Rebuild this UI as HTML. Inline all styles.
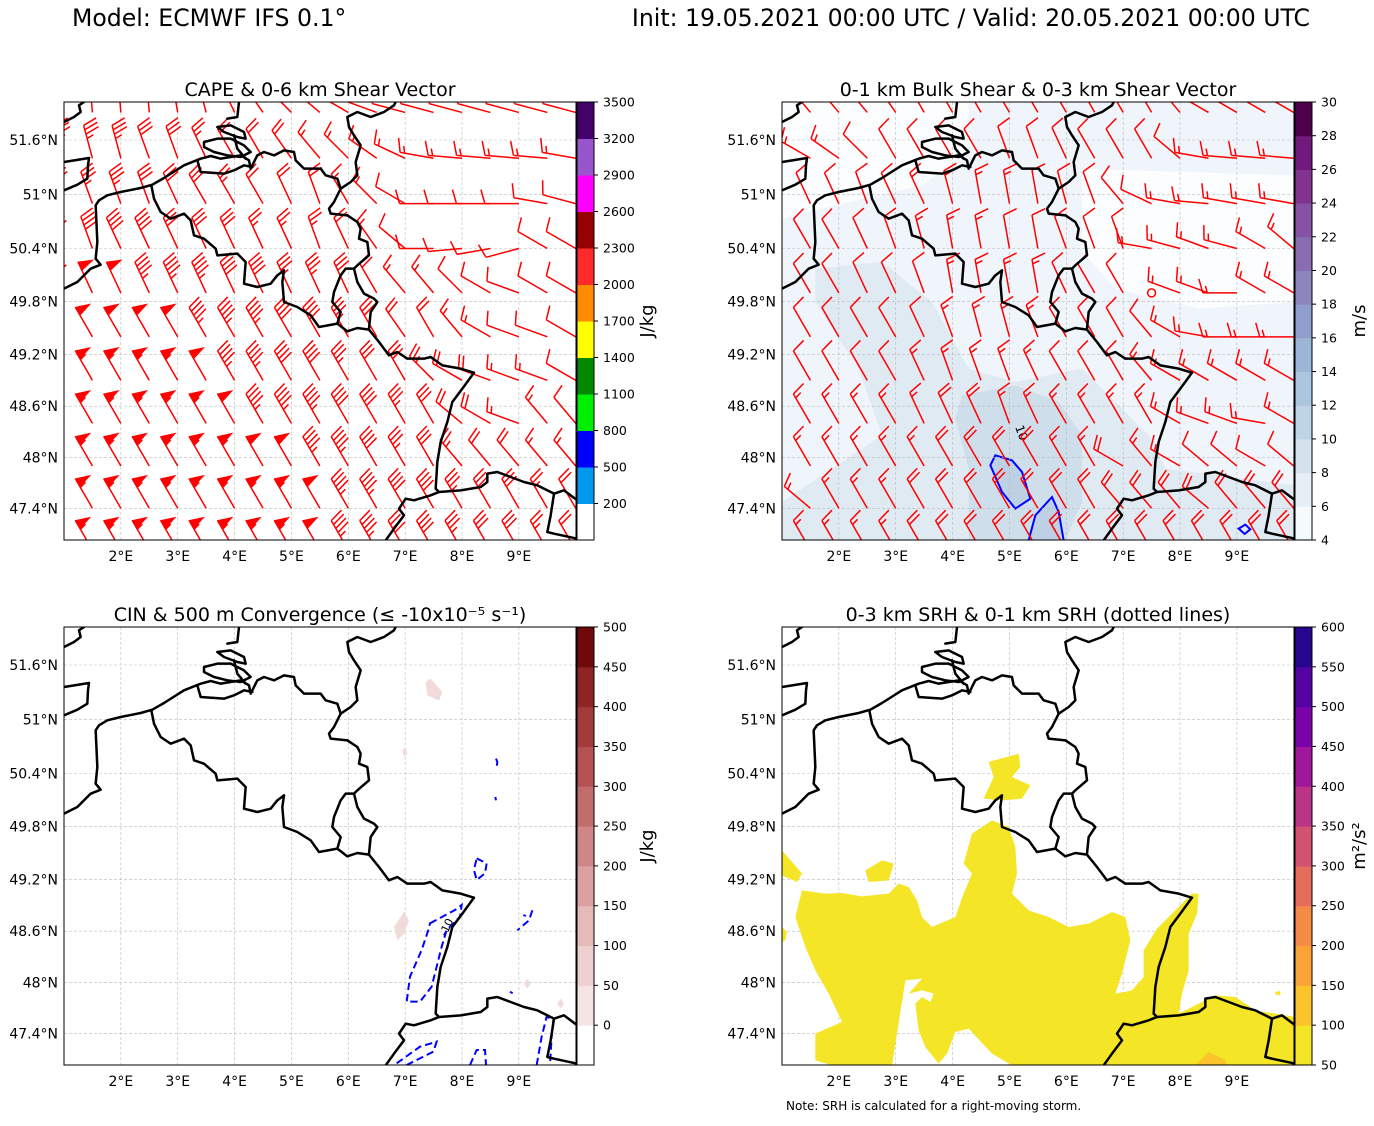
<!DOCTYPE html>
<html><head><meta charset="utf-8"><style>
html,body{margin:0;padding:0;background:#fff;}
svg text{font-family:"DejaVu Sans","Liberation Sans",sans-serif;fill:#000;}
</style></head><body>
<svg id="fig" width="1374" height="1121" viewBox="0 0 1374 1121" xmlns="http://www.w3.org/2000/svg">
<defs>
<symbol id="borders" viewBox="0 0 1542 1314" width="514" height="438">
<g fill="none" stroke="#000" stroke-width="7.5" stroke-linejoin="round" stroke-linecap="round">
<path d="M0,560 L40,540 L80,500 L110,488 L95,470 L100,420 L95,310 L105,295 L130,280 L170,270 L230,258 L265,248 L300,228 L360,190 L410,170 L440,162 L470,170 L500,165 L530,160 L555,175 L560,200"/>
<path d="M400,175 L410,210 L480,215 L510,205 L540,190 L565,195"/>
<path d="M420,120 L460,110 L500,110 L540,130 L560,150 L530,165 L490,160 L450,150 L420,135 Z"/>
<path d="M460,75 L500,70 L540,90 L545,110 L520,105 L480,90 Z"/>
<path d="M490,50 L520,45 L525,0 M510,100 L520,140 L545,170"/>
<path d="M0,180 L75,168 L72,190 L70,230 L40,248 L0,265 M0,60 L30,45 L50,30 L45,10 L60,0"/>
<path d="M262,250 L270,290 L290,330 L320,350 L360,335 L380,355 L390,400 L420,410 L455,440 L460,460 L520,455 L545,480 L540,545 L580,555 L620,545 L640,520 L660,505 L655,540 L660,600 L700,615 L740,640 L765,675 L820,665 L850,688 L880,678 L915,683 L945,720 L975,760 L1000,750 L1030,770 L1080,770 L1100,765 L1135,790 L1190,800 L1230,812 L1195,860 L1165,900 L1150,960 L1130,1020 L1120,1080 L1115,1160 L1125,1170 L1100,1180 L1050,1195 L1025,1190 L1005,1220 L1020,1240 L990,1280 L965,1315"/>
<path d="M1125,1170 L1190,1165 L1250,1155 L1270,1140 L1270,1115 L1300,1110 L1340,1125 L1380,1140 L1420,1150 L1470,1175 L1500,1165 L1540,1195 M1470,1175 L1460,1240 L1450,1290 L1470,1295 L1540,1310"/>
<path d="M565,190 L580,160 L600,150 L630,160 L660,145 L690,150 L695,175 L720,200 L770,200 L785,220 L820,230 L830,260 L810,300 L795,320 L800,335 L850,340"/>
<path d="M830,260 L860,240 L880,220 L875,180 L890,130 L870,100 L855,75 L850,45 L880,30 L920,45 L960,30 L990,10 L995,0"/>
<path d="M850,340 L880,360 L890,380 L885,410 L910,420 L915,460 L880,490 L870,500 M870,500 L845,500 L830,520 L810,570 L805,600 L830,630 L820,665 M870,500 L880,540 L900,575 L930,590 L940,600 L920,630 L915,680"/>
</g>
</symbol>
<clipPath id="clipMap"><rect x="0" y="0" width="512" height="438"/></clipPath>
</defs>

<text x="72" y="26" font-size="23.6">Model: ECMWF IFS 0.1°</text>
<text x="1310" y="26" font-size="23.6" text-anchor="end">Init: 19.05.2021 00:00 UTC / Valid: 20.05.2021 00:00 UTC</text>

<g id="p1" transform="translate(64,102)"></g>
<g id="p2" transform="translate(782,102)"></g>
<g id="p3" transform="translate(64,627)"></g>
<g id="p4" transform="translate(782,627)"></g>
<text x="786" y="1110" font-size="12">Note: SRH is calculated for a right-moving storm.</text>
</svg>
<script>
// ---- data ----
const lonTicks = [2,3,4,5,6,7,8,9];
const latTicks = [47.4,48.0,48.6,49.2,49.8,50.4,51.0,51.6];
const latTickLabels = ["47.4°N","48°N","48.6°N","49.2°N","49.8°N","50.4°N","51°N","51.6°N"];
const barbLons = [1.0,1.5,2.0,2.5,3.0,3.5,4.0,4.5,5.0,5.5,6.0,6.5,7.0,7.5,8.0,8.5,9.0,9.5,10.0];
const barbLats = [51.9,51.4,50.9,50.4,49.9,49.4,48.9,48.4,47.9,47.4,46.9];
// CAPE panel: 0-6 km shear (kt) and direction (deg)
const shear6Speed = [
[25,25,20,20,20,20,15,15,15,15,10,10,10,10,10,10,10,10,10],
[35,35,35,30,30,25,20,20,20,15,15,15,15,15,15,15,15,15,15],
[35,35,35,30,30,30,25,20,20,20,15,15,10,10,10,10,10,10,10],
[40,40,40,40,30,30,30,25,25,25,20,15,10,10,10,10,10,10,10],
[45,50,50,45,45,45,40,40,35,35,30,20,15,15,10,10,10,10,10],
[45,50,50,50,50,45,45,45,40,40,35,30,20,20,15,15,10,10,10],
[50,55,55,55,55,50,45,45,40,40,35,30,30,25,20,20,15,15,10],
[55,55,55,55,55,55,50,45,45,45,40,40,35,30,20,20,15,15,10],
[55,55,55,55,55,55,55,50,50,45,45,40,35,30,25,20,20,15,15],
[55,55,55,55,55,55,55,55,55,50,45,45,40,40,35,30,30,25,20],
[55,55,55,55,55,55,55,55,55,50,45,45,40,40,35,30,30,25,20]];
const shear6Dir = [
[350,355,355,355,350,345,335,325,315,310,300,290,285,285,285,285,285,285,285],
[345,345,345,340,340,335,330,330,325,320,315,305,295,280,275,275,275,275,280],
[340,340,340,340,335,330,330,330,335,340,330,315,300,270,270,270,270,280,285],
[335,340,335,335,335,335,335,335,335,340,335,325,310,270,265,260,255,300,300],
[335,335,335,335,335,335,335,335,335,335,335,330,320,320,315,300,290,300,300],
[330,330,330,330,330,330,330,330,330,330,330,330,325,330,320,300,290,290,300],
[330,330,330,330,330,330,330,330,330,330,330,330,330,315,300,290,290,290,300],
[330,330,330,330,330,330,330,330,330,330,330,330,330,330,310,300,290,320,320],
[330,330,330,330,330,330,330,330,330,330,330,330,330,330,320,320,320,320,320],
[330,330,330,330,330,330,330,330,330,330,330,330,330,330,330,330,330,330,330],
[330,330,330,330,330,330,330,330,330,330,330,330,330,330,330,330,330,330,330]];
// bulk shear panel: 0-3 km shear
const shear3Speed = [
[10,10,10,10,10,10,10,10,10,10,10,10,10,10,10,10,10,10,10],
[10,15,15,10,10,10,10,10,10,10,10,10,10,10,10,15,15,15,15],
[10,10,10,10,10,15,15,15,15,10,10,10,10,10,15,15,15,15,15],
[10,10,10,10,10,15,15,15,10,10,10,10,10,15,15,15,15,15,15],
[10,10,10,10,10,10,15,15,15,15,10,10,10,0,15,15,15,15,15],
[10,10,10,10,10,10,15,15,15,15,10,10,10,10,15,15,15,15,15],
[10,10,10,10,10,15,15,15,15,15,10,10,10,15,15,15,15,15,15],
[15,15,15,15,15,15,20,20,15,15,15,15,15,15,15,15,15,15,15],
[10,15,15,15,15,15,20,20,20,20,15,15,20,15,15,10,10,10,10],
[10,15,15,15,15,20,20,20,20,20,20,20,20,20,20,20,20,20,20],
[15,15,15,15,15,20,20,20,20,20,20,20,20,20,20,20,20,20,20]];
const shear3Dir = [
[320,320,320,320,325,330,330,330,330,330,330,330,330,330,320,300,300,300,300],
[310,300,305,315,330,330,330,330,340,340,335,330,330,330,310,280,275,275,275],
[330,335,335,340,335,335,345,350,350,350,345,340,320,295,280,275,280,280,280],
[330,330,330,335,340,345,350,350,350,350,340,340,340,280,285,290,285,300,310],
[320,330,330,335,335,340,350,350,350,350,335,330,330,0,290,290,270,300,300],
[330,330,330,330,330,335,340,345,345,340,330,330,330,320,300,280,270,270,270],
[330,330,330,330,330,335,340,340,340,335,330,330,330,320,300,300,300,300,300],
[330,330,330,330,330,335,335,335,340,335,330,330,330,330,300,290,290,280,300],
[320,330,330,330,330,330,330,330,330,330,330,330,300,320,300,310,310,300,310],
[310,310,330,330,330,330,330,330,330,330,330,330,320,320,320,310,320,320,320],
[330,330,330,330,330,330,330,330,330,330,330,330,330,330,330,330,330,330,330]];
const capeLevels = [200,500,800,1100,1400,1700,2000,2300,2600,2900,3200,3500];
const capeColors = ["#0099ee","#0000ff","#00ee00","#008800","#ffff00","#ff8c00","#ff2a2a","#960000","#ff00ff","#9955cc","#44006b"];
const shearLevels = [4,6,8,10,12,14,16,18,20,22,24,26,28,30];
const shearColors = ["#f5fafc","#e6eff6","#d4e2ee","#c0d4e7","#adc6e0","#9db6d7","#8f9ecc","#8c86bf","#8a6cb1","#8752a4","#82338f","#6f1a7c","#4d004b"];
const cinLevels = [0,50,100,150,200,250,300,350,400,450,500];
const cinColors = ["#f6e4e4","#efd0d0","#e7baba","#dca0a0","#d08686","#c36c6c","#b45252","#a33a3a","#8f2424","#700a0a"];
const srhLevels = [50,100,150,200,250,300,350,400,450,500,550,600];
const srhColors = ["#f4e526","#fbc42b","#fca337","#f58b47","#e66c5c","#d35171","#bb3488","#a0179c","#7a02a8","#5502a4","#26068f"];

// ---- axes ----
const NS="http://www.w3.org/2000/svg";
const W=512,H=438;
function merc(lat){return Math.log(Math.tan(Math.PI/4+lat*Math.PI/360));}
function xOf(lon){return (lon-1.0)*56.86;}
function yOf(lat){return 38+3260*(merc(51.6)-merc(lat));}
function el(tag,attrs,parent){const e=document.createElementNS(NS,tag);for(const k in attrs)e.setAttribute(k,attrs[k]);if(parent)parent.appendChild(e);return e;}

function drawFrameAxes(g){
  for(let i=0;i<lonTicks.length;i++){
    const x=xOf(lonTicks[i]);
    const gl=el('line',{x1:x,y1:0,x2:x,y2:H,stroke:'#bbb','stroke-width':0.6,'stroke-dasharray':'3,2'},g);
    
    
    const t=el('text',{x:x,y:H+21,'font-size':14,'text-anchor':'middle'},g);
    t.textContent=lonTicks[i]+'°E';
    
    
  }
  for(let i=0;i<latTicks.length;i++){
    const y=yOf(latTicks[i]);
    const gl=el('line',{x1:0,y1:y,x2:W,y2:y,stroke:'#bbb','stroke-width':0.6,'stroke-dasharray':'3,2'},g);
    
    
    const t=el('text',{x:-6,y:y+5,'font-size':14,'text-anchor':'end'},g);
    t.textContent=latTickLabels[i];
    
    
  }
}
function drawBorders(g){
  const u=el('use',{href:'#borders',x:0,y:0,width:514,height:438},g);
  
  
  const r=el('rect',{x:0,y:0,width:W,height:H,fill:'none',stroke:'#000','stroke-width':1},g);
  
  
}
function drawTitle(g,txt,name){
  const t=el('text',{x:W/2,y:-6,'font-size':19,'text-anchor':'middle'},g);
  t.textContent=txt;
  
  
}
function drawColorbar(g,levels,colors,unit,extendBelow,name){
  const cb=el('g',{transform:'translate(513,0)'},g);
  
  
  const n=colors.length+(extendBelow?1:0);
  const seg=H/n;
  function yl(i){return H-(i+(extendBelow?1:0))*seg;}
  if(extendBelow){el('rect',{x:0,y:H-seg,width:17,height:seg,fill:'#fff'},cb);}
  for(let i=0;i<colors.length;i++){
    const r=el('rect',{x:0,y:yl(i+1),width:17,height:seg+0.5,fill:colors[i]},cb);
    
    
  }
  el('rect',{x:0,y:0,width:17,height:H,fill:'none',stroke:'#000','stroke-width':1},cb);
  for(let i=0;i<levels.length;i++){
    const y=yl(i);
    el('line',{x1:17,y1:y,x2:21,y2:y,stroke:'#000','stroke-width':1},cb);
    const t=el('text',{x:26,y:y+4.5,'font-size':12.5},cb);
    t.textContent=levels[i];
    
    
  }
  const lx=name==='cape-colorbar'||name==='cin-colorbar'?76:70;
  const t=el('text',{x:lx,y:H/2,'font-size':18,'text-anchor':'middle',transform:`rotate(-90 ${lx} ${H/2})`},cb);
  t.textContent=unit;
  
  
}
function drawBarb(g,x,y,spd,dir){
  const L=34;
  if(spd<5){
    const c=el('circle',{cx:x,cy:y,r:4,fill:'none',stroke:'#f00','stroke-width':1.5},g);
    
    
    return;
  }
  const a=dir*Math.PI/180;
  const ux=Math.sin(a),uy=-Math.cos(a);
  const px=-uy,py=ux;
  const tx=x+ux*L,ty=y+uy*L;
  const bl=14,sp=4.5;
  let d=`M${x},${y}L${tx},${ty}`;
  let s=Math.round(spd/5)*5;
  let pen=Math.floor(s/50);s-=pen*50;
  let full=Math.floor(s/10);s-=full*10;
  let half=s>=5;
  let pos=0;
  let fills='';
  for(let i=0;i<pen;i++){
    const ax=tx-ux*pos,ay=ty-uy*pos;
    const bx=tx-ux*(pos+sp*2),by=ty-uy*(pos+sp*2);
    const cx=ax-ux*sp+px*bl,cy=ay-uy*sp+py*bl;
    fills+=`M${ax},${ay}L${cx},${cy}L${bx},${by}Z`;
    pos+=sp*2+1;
  }
  if(pen===0&&full===0&&half)pos+=sp;
  for(let i=0;i<full;i++){
    const ax=tx-ux*pos,ay=ty-uy*pos;
    d+=`M${ax},${ay}L${ax+px*bl+ux*4},${ay+py*bl+uy*4}`;
    pos+=sp;
  }
  if(half){
    const ax=tx-ux*pos,ay=ty-uy*pos;
    d+=`M${ax},${ay}L${ax+px*bl/2+ux*2},${ay+py*bl/2+uy*2}`;
  }
  const p=el('path',{d:d,fill:'none',stroke:'#f00','stroke-width':1.5},g);
  
  
  if(fills){
    const f=el('path',{d:fills,fill:'#f00',stroke:'#f00','stroke-width':1},g);
    
    
  }
}
function drawBarbs(g,spd,dir){
  const bg=el('g',{'clip-path':'url(#clipMap)'},g);
  
  
  for(let r=0;r<barbLats.length;r++)for(let c=0;c<barbLons.length;c++){
    drawBarb(bg,xOf(barbLons[c]),yOf(barbLats[r]),spd[r][c],dir[r][c]);
  }
}
function zpoly(g,pts,fill,name,extra){
  const p=el('path',Object.assign({d:pts,fill:fill,transform:'scale(0.33333)'},extra||{}),g);
  
  
  return p;
}

// ---- panel 1 ----
const p1=document.getElementById('p1');
drawTitle(p1,'CAPE & 0-6 km Shear Vector','cape-panel-title');
el('rect',{x:0,y:0,width:W,height:H,fill:'#fff'},p1);
drawFrameAxes(p1);
drawBarbs(p1,shear6Speed,shear6Dir);
drawBorders(p1);
drawColorbar(p1,capeLevels,capeColors,'J/kg',true,'cape-colorbar');

// ---- panel 2 ----
const p2=document.getElementById('p2');
drawTitle(p2,'0-1 km Bulk Shear & 0-3 km Shear Vector','bulk-shear-panel-title');
const f2=el('g',{'clip-path':'url(#clipMap)'},p2);


el('rect',{x:0,y:0,width:W,height:H,fill:'#eff5fa'},f2);
zpoly(f2,'M0,0 L560,0 L560,150 L420,250 L200,300 L0,350Z','#fbfdfe','shear-low-region');
zpoly(f2,'M900,200 L1540,220 L1540,600 L1250,620 L1000,560 L900,450Z','#fbfdfe','shear-low-region-east');
zpoly(f2,'M100,500 L300,480 L450,600 L560,800 L700,840 L900,800 L1000,900 L1100,1000 L1150,1100 L1540,1150 L1540,1315 L0,1315 L0,1200 L300,1000 L230,800 L100,600Z','#e0eaf3','shear-8-10-region');
zpoly(f2,'M540,880 L700,850 L830,900 L900,1000 L900,1200 L850,1315 L560,1315 L560,1100 L520,950Z','#cfdeeb','shear-10-12-region');
zpoly(f2,'M640,1060 L690,1075 L720,1110 L745,1190 L700,1220 L660,1170 L625,1090Z','#bdd0e4','shear-12-region');
zpoly(f2,'M740,1315 L760,1240 L810,1185 L830,1230 L845,1315Z','#bdd0e4','shear-12-region-south');
zpoly(f2,'M640,1060 L690,1075 L720,1110 L745,1190 L700,1220 L660,1170 L625,1090Z','none','shear-10-contour',{stroke:'#00f','stroke-width':6});
zpoly(f2,'M740,1315 L760,1240 L810,1185 L830,1230 L845,1315','none','shear-10-contour-south',{stroke:'#00f','stroke-width':6});
zpoly(f2,'M1370,1280 L1390,1268 L1405,1282 L1388,1296Z','none','shear-10-contour-east',{stroke:'#00f','stroke-width':6});
const l10=el('text',{x:233,y:325,'font-size':12,fill:'#00f',transform:'rotate(70 233 325)'},f2);
l10.textContent='10';


drawFrameAxes(p2);
drawBarbs(p2,shear3Speed,shear3Dir);
drawBorders(p2);
drawColorbar(p2,shearLevels,shearColors,'m/s',false,'shear-colorbar');

// ---- panel 3 ----
const p3=document.getElementById('p3');
drawTitle(p3,'CIN & 500 m Convergence (≤ -10x10⁻⁵ s⁻¹)','cin-panel-title');
el('rect',{x:0,y:0,width:W,height:H,fill:'#fff'},p3);
drawFrameAxes(p3);
const f3=el('g',{'clip-path':'url(#clipMap)'},p3);


zpoly(f3,'M1085,165 L1100,155 L1135,195 L1125,220 L1090,205Z','#f0dada','cin-patch');
zpoly(f3,'M1015,370 L1025,360 L1030,380 L1020,390Z','#f0dada','cin-patch');
zpoly(f3,'M990,900 L1020,855 L1035,880 L1020,920 L1000,940Z','#f0dada','cin-patch');
zpoly(f3,'M1380,1070 L1390,1055 L1400,1070 L1390,1085Z','#f0dada','cin-patch');
zpoly(f3,'M1480,1130 L1490,1115 L1500,1130 L1490,1145Z','#f0dada','cin-patch');
const cv=el('g',{transform:'translate(306,223) scale(0.33333)'},f3);


const convPaths=['M320,25 L350,40 L345,70 L320,90 L312,60Z',
'M180,220 L255,180 L275,165 L270,200 L230,240 L215,290 L185,410 L150,455 L110,455 L120,380 L155,300 L175,240Z',
'M80,640 L150,590 L200,575 L190,605 L140,630 L110,645',
'M300,645 L320,600 L345,600 L348,645',
'M500,645 L515,560 L530,500 L550,510 L545,560 L540,645',
'M460,195 L468,198','M420,425 L428,430'];
for(const d of convPaths){
  const p=el('path',{d:d,fill:'none',stroke:'#00f','stroke-width':6,'stroke-dasharray':'22,12'},cv);
  
  
}
const cv2=el('path',{d:'M1296,395 L1300,405 L1298,420 M1294,510 L1296,520 M1405,850 L1395,880 L1360,910',fill:'none',stroke:'#00f','stroke-width':6,'stroke-dasharray':'22,12',transform:'scale(0.33333)'},f3);


const lc=el('text',{x:382,y:310,'font-size':11,fill:'#00f',transform:'rotate(-65 382 310)'},f3);
lc.textContent='-10';


drawBorders(p3);
drawColorbar(p3,cinLevels,cinColors,'J/kg',true,'cin-colorbar');

// ---- panel 4 ----
const p4=document.getElementById('p4');
drawTitle(p4,'0-3 km SRH & 0-1 km SRH (dotted lines)','srh-panel-title');
el('rect',{x:0,y:0,width:W,height:H,fill:'#fff'},p4);
const f4=el('g',{'clip-path':'url(#clipMap)'},p4);


drawFrameAxes(p4);
f4.parentNode.appendChild(f4);
const Y=srhColors[0];
zpoly(f4,'M60,790 L130,800 L180,798 L240,808 L320,800 L350,770 L380,780 L405,820 L420,870 L450,900 L520,870 L545,800 L570,740 L545,710 L570,620 L630,580 L680,600 L700,660 L705,740 L690,800 L740,850 L800,870 L860,900 L920,890 L990,855 L1030,870 L1045,940 L1020,1040 L1000,1100 L1050,1090 L1085,1050 L1085,970 L1125,905 L1195,835 L1230,800 L1250,800 L1245,860 L1220,920 L1220,1030 L1200,1100 L1190,1160 L1270,1120 L1300,1105 L1360,1110 L1420,1150 L1480,1160 L1540,1170 L1540,1315 L690,1315 L630,1280 L560,1205 L520,1215 L495,1280 L470,1310 L430,1260 L410,1210 L400,1130 L420,1110 L445,1125 L455,1100 L420,1090 L380,1100 L370,1060 L330,1315 L150,1315 L100,1300 L100,1220 L180,1185 L140,1100 L100,1030 L70,960 L40,870Z',Y,'srh-50-region');
zpoly(f4,'M0,670 L60,740 L45,765 L0,745Z',Y,'srh-50-region-west');
zpoly(f4,'M0,900 L15,915 L10,940 L0,945Z',Y,'srh-50-region-west2');
zpoly(f4,'M250,730 L300,700 L335,710 L320,760 L260,765Z',Y,'srh-50-region-small');
zpoly(f4,'M620,405 L710,380 L715,420 L690,450 L745,475 L720,515 L660,520 L605,515 L635,450Z',Y,'srh-50-region-north');
zpoly(f4,'M370,1060 L420,1055 L380,1100Z','#fff','srh-hole');
zpoly(f4,'M1480,1095 L1495,1092 L1495,1105 L1480,1102Z',Y,'srh-50-region-tiny');
zpoly(f4,'M1240,1315 L1280,1275 L1330,1300 L1335,1315Z',srhColors[1],'srh-100-region');
drawBorders(p4);
drawColorbar(p4,srhLevels,srhColors,'m²/s²',false,'srh-colorbar');
</script>
</body></html>
